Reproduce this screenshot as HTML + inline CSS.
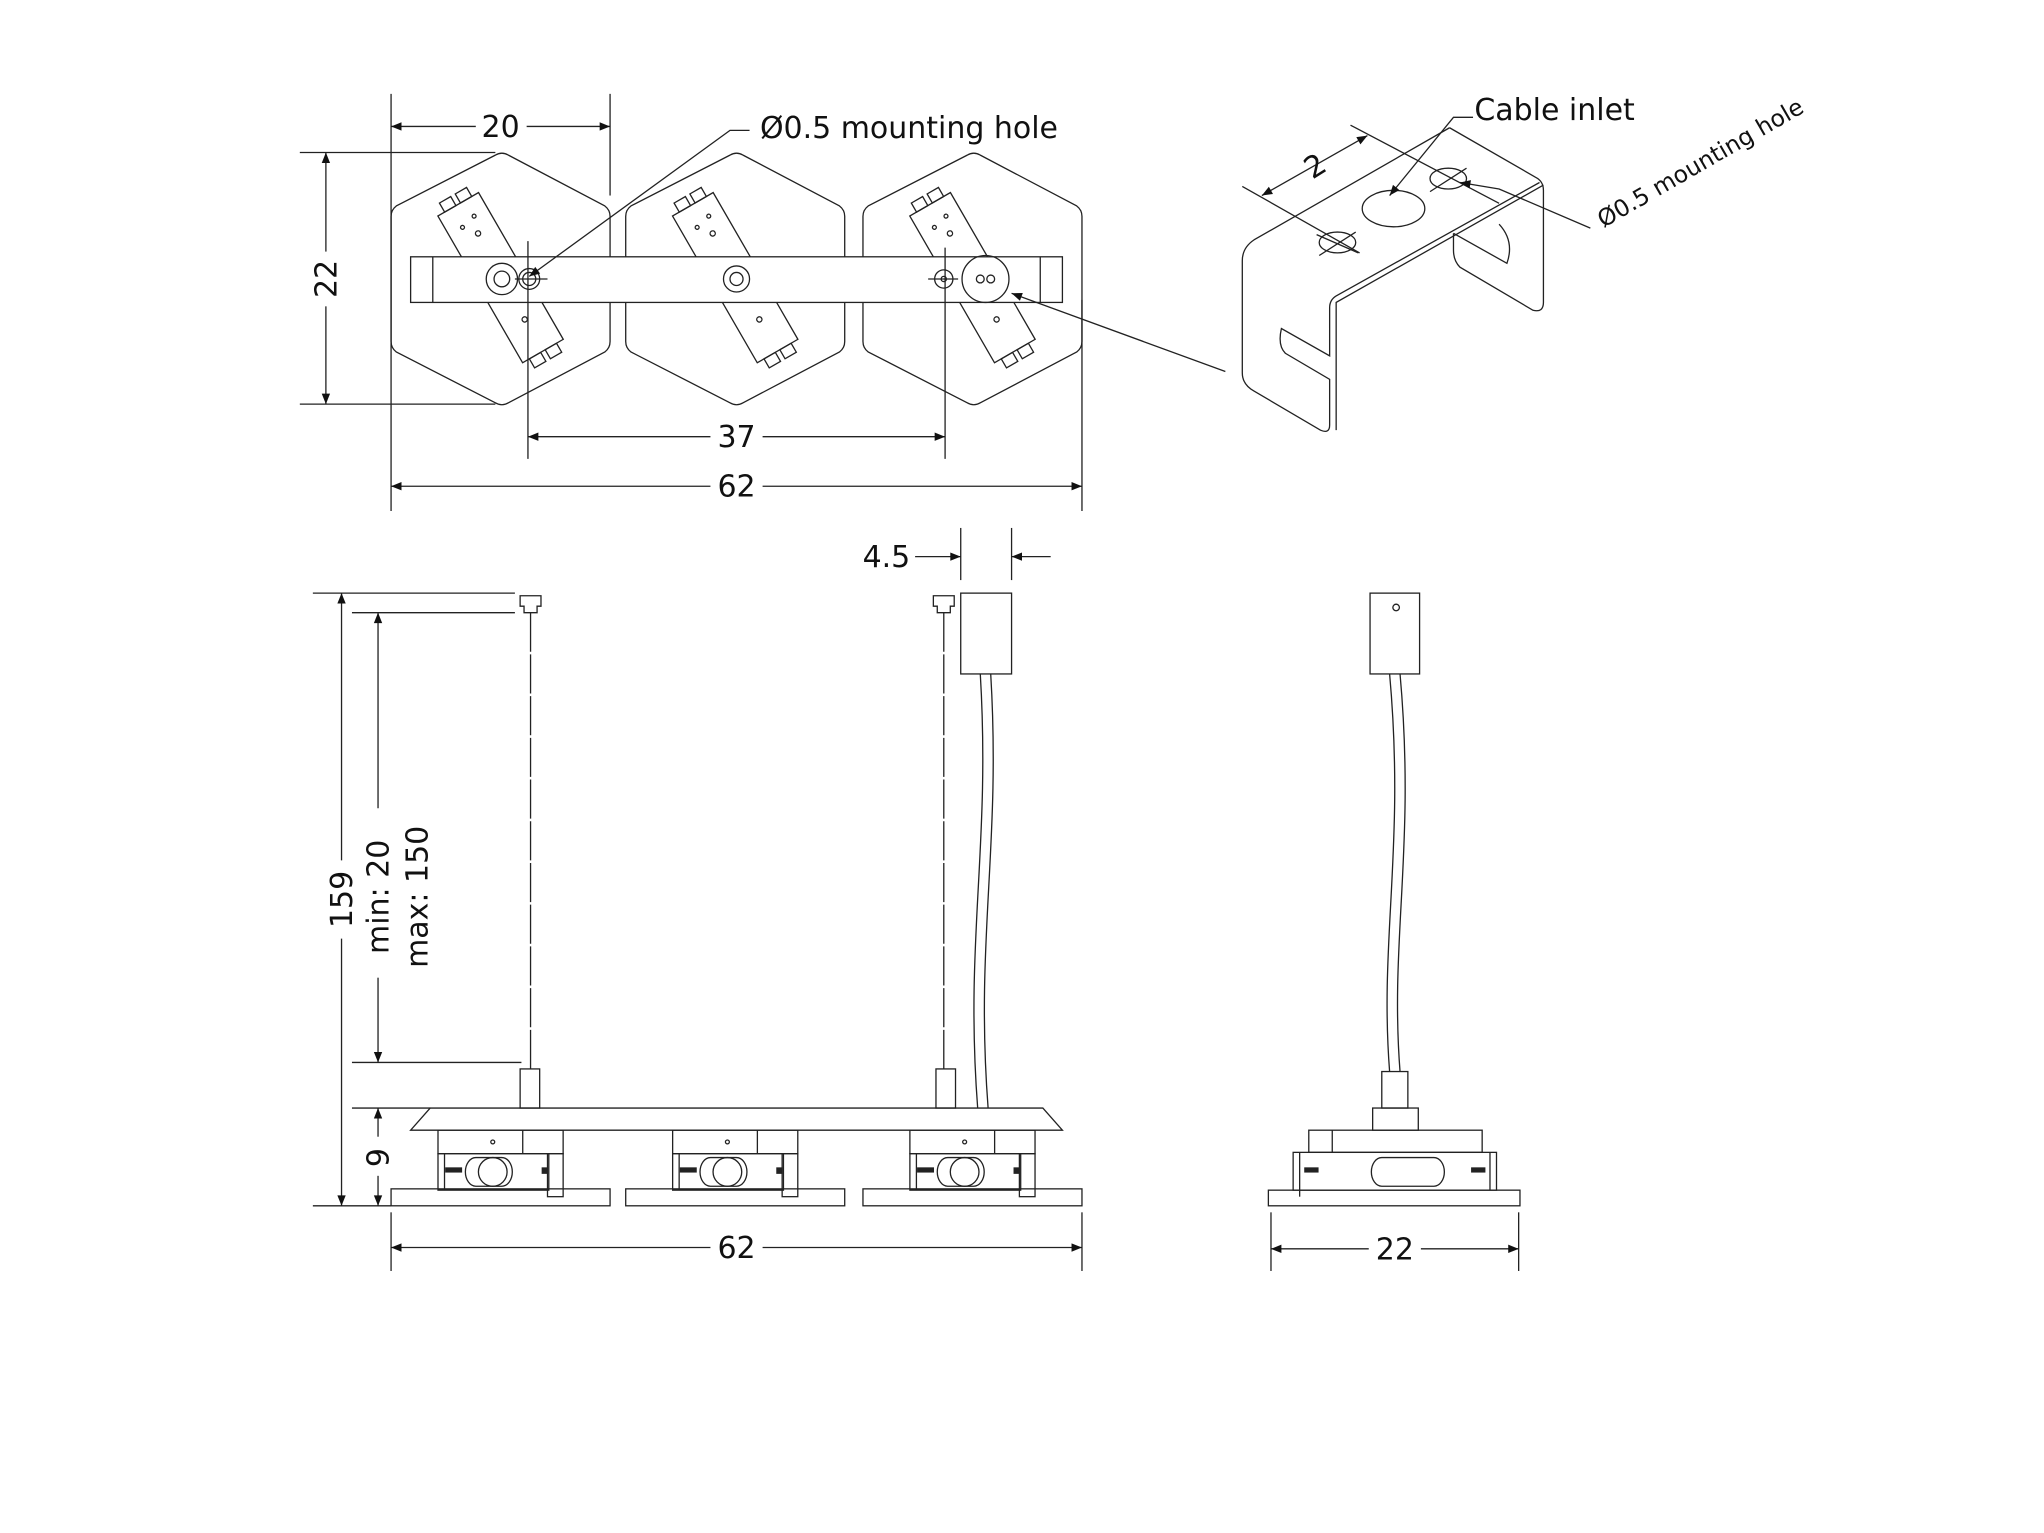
<!DOCTYPE html>
<html><head><meta charset="utf-8"><style>
html,body{margin:0;padding:0;background:#fff;width:2044px;height:1533px;overflow:hidden}
svg{display:block}
text{font-family:"DejaVu Sans","Liberation Sans",sans-serif;fill:#111}
</style></head><body>
<svg width="2044" height="1533" viewBox="0 0 1568 1176" xmlns="http://www.w3.org/2000/svg">
<defs>
<marker id="a" viewBox="0 0 10 10" refX="10" refY="5" markerWidth="12" markerHeight="8" orient="auto-start-reverse" markerUnits="userSpaceOnUse"><path d="M0,1 L10,5 L0,9z" fill="#111"/></marker>
</defs>
<g fill="none" stroke="#222" stroke-width="1">
<!-- hexagons -->
<g id="hx">
<path d="M380,119 Q385,116 390,119 L464,158 Q468,161 468,166 L468,262 Q468,267 464,270 L390,309 Q385,312 380,309 L304,270 Q300,267 300,262 L300,166 Q300,161 304,158 Z"/>
<g transform="rotate(-30 384 213)">
<rect x="366" y="148" width="36" height="130"/>
<rect x="372" y="140" width="10" height="8"/><rect x="386" y="140" width="10" height="8"/>
<rect x="372" y="278" width="10" height="8"/><rect x="386" y="278" width="10" height="8"/>
<circle cx="378" cy="165" r="1.5"/><circle cx="390" cy="162" r="1.5"/><circle cx="386" cy="175" r="2"/><circle cx="384" cy="250" r="2"/>
</g>
</g>
<use href="#hx" transform="translate(180,0)"/>
<use href="#hx" transform="translate(362,0)"/>
<rect x="315" y="197" width="500" height="35" fill="#fff"/>
<line x1="332" y1="197" x2="332" y2="232"/><line x1="798" y1="197" x2="798" y2="232"/>
<circle cx="385" cy="214" r="12"/><circle cx="385" cy="214" r="6"/>
<circle cx="406" cy="214" r="8"/><circle cx="406" cy="214" r="5"/>
<circle cx="565" cy="214" r="10"/><circle cx="565" cy="214" r="5"/>
<circle cx="724" cy="214" r="7"/><circle cx="724" cy="214" r="2"/>
<circle cx="756" cy="214" r="18"/><circle cx="752" cy="214" r="3"/><circle cx="760" cy="214" r="3"/>
<line x1="395" y1="214" x2="420" y2="214"/><line x1="712" y1="214" x2="735" y2="214"/>
<!-- dims top -->
<line x1="300" y1="72" x2="300" y2="392"/><line x1="468" y1="72" x2="468" y2="150"/>
<line x1="300" y1="97" x2="365" y2="97" marker-start="url(#a)"/><line x1="404" y1="97" x2="468" y2="97" marker-end="url(#a)"/>
<line x1="230" y1="117" x2="380" y2="117"/><line x1="230" y1="310" x2="380" y2="310"/>
<line x1="250" y1="117" x2="250" y2="193" marker-start="url(#a)"/><line x1="250" y1="235" x2="250" y2="310" marker-end="url(#a)"/>
<line x1="405" y1="185" x2="405" y2="352"/><line x1="725" y1="190" x2="725" y2="352"/>
<line x1="405" y1="335" x2="545" y2="335" marker-start="url(#a)"/><line x1="585" y1="335" x2="725" y2="335" marker-end="url(#a)"/>
<line x1="830" y1="230" x2="830" y2="392"/>
<line x1="300" y1="373" x2="545" y2="373" marker-start="url(#a)"/><line x1="585" y1="373" x2="830" y2="373" marker-end="url(#a)"/>
<polyline points="575,100 560,100 406,212" marker-end="url(#a)"/>
<polyline points="940,285 776,225" marker-end="url(#a)"/>
<!-- bracket -->
<path d="M1112,98 L1178,136 Q1184,139 1184,146 L1184,232 Q1184,240 1176,238 L1120,205 Q1115,200 1115,192 L1115,179"/>
<path d="M1115,179 L1156,202 Q1162,185 1150,172"/>
<path d="M1112,98 L962,184 Q953,190 953,200 L953,286 Q953,295 962,300 L1013,330 Q1020,333 1020,326 L1020,291 L986,271 Q980,265 983,252 L1020,273 L1020,236 Q1020,230 1025,227 L1181,140"/>
<path d="M1184,142 L1025,232 L1025,330"/>
<ellipse cx="1026" cy="186" rx="14" ry="8"/><line x1="1012" y1="196" x2="1040" y2="178"/><line x1="1010" y1="180" x2="1042" y2="194"/>
<ellipse cx="1069" cy="160" rx="24" ry="14"/>
<ellipse cx="1111" cy="137" rx="14" ry="8"/><line x1="1097" y1="147" x2="1125" y2="129"/>
<line x1="953" y1="143" x2="1043" y2="194"/><line x1="1036" y1="96" x2="1150" y2="156"/>
<line x1="968" y1="150" x2="1049" y2="104" marker-start="url(#a)" marker-end="url(#a)"/>
<polyline points="1130,90 1115,90 1066,150" marker-end="url(#a)"/>
<polyline points="1220,175 1150,145 1120,140" marker-end="url(#a)"/>
<!-- front view -->
<path d="M399,457 h16 v8 h-3 v5 h-10 v-5 h-3z"/><path d="M716,457 h16 v8 h-3 v5 h-10 v-5 h-3z"/>
<line x1="407" y1="470" x2="407" y2="820" stroke-dasharray="30 2"/><line x1="724" y1="470" x2="724" y2="820" stroke-dasharray="30 2"/>
<rect x="399" y="820" width="15" height="30"/><rect x="718" y="820" width="15" height="30"/>
<rect x="737" y="455" width="39" height="62"/>
<path d="M752,517 C760,650 740,720 750,850 M760,517 C768,650 748,720 758,850"/>
<path d="M330,850 L800,850 L815,867 L315,867 Z"/>
<g id="md"><rect x="336" y="867" width="96" height="18"/><line x1="401" y1="867" x2="401" y2="885"/><rect x="336" y="885" width="85" height="28"/><rect x="420" y="885" width="12" height="33"/><line x1="341" y1="885" x2="341" y2="913"/><path d="M365,888 h20 a8,11 0 0 1 0,22 h-20 a8,11 0 0 1 0,-22z"/><circle cx="378" cy="899" r="11"/><rect x="300" y="912" width="168" height="13"/><rect x="342" y="896" width="12" height="3" fill="#222"/><rect x="416" y="896" width="4" height="4" fill="#222"/><circle cx="378" cy="876" r="1.5"/></g>
<use href="#md" transform="translate(180,0)"/><use href="#md" transform="translate(362,0)"/>
<!-- dims front -->
<line x1="240" y1="455" x2="395" y2="455"/><line x1="270" y1="470" x2="395" y2="470"/><line x1="270" y1="815" x2="400" y2="815"/><line x1="270" y1="850" x2="330" y2="850"/><line x1="240" y1="925" x2="300" y2="925"/>
<line x1="262" y1="455" x2="262" y2="660" marker-start="url(#a)"/><line x1="262" y1="720" x2="262" y2="925" marker-end="url(#a)"/>
<line x1="290" y1="470" x2="290" y2="620" marker-start="url(#a)"/><line x1="290" y1="750" x2="290" y2="815" marker-end="url(#a)"/>
<line x1="290" y1="850" x2="290" y2="872" marker-start="url(#a)"/><line x1="290" y1="902" x2="290" y2="925" marker-end="url(#a)"/>
<line x1="737" y1="405" x2="737" y2="445"/><line x1="776" y1="405" x2="776" y2="445"/>
<line x1="702" y1="427" x2="737" y2="427" marker-end="url(#a)"/><line x1="806" y1="427" x2="776" y2="427" marker-end="url(#a)"/>
<line x1="300" y1="930" x2="300" y2="975"/><line x1="830" y1="930" x2="830" y2="975"/>
<line x1="300" y1="957" x2="545" y2="957" marker-start="url(#a)"/><line x1="585" y1="957" x2="830" y2="957" marker-end="url(#a)"/>
<!-- side view -->
<rect x="1051" y="455" width="38" height="62"/><circle cx="1071" cy="466" r="2.5"/>
<path d="M1066,517 C1078,650 1058,720 1066,822 M1074,517 C1086,650 1066,720 1074,822"/>
<rect x="1060" y="822" width="20" height="28"/>
<rect x="1053" y="850" width="35" height="17"/>
<rect x="1004" y="867" width="133" height="17"/><line x1="1022" y1="867" x2="1022" y2="884"/>
<rect x="992" y="884" width="156" height="29"/>
<line x1="997" y1="884" x2="997" y2="918"/><line x1="1143" y1="884" x2="1143" y2="913"/>
<path d="M1060,888 h40 a8,11 0 0 1 0,22 h-40 a8,11 0 0 1 0,-22z"/>
<rect x="973" y="913" width="193" height="12"/>
<rect x="1001" y="896" width="10" height="3" fill="#222"/><rect x="1129" y="896" width="10" height="3" fill="#222"/>
<line x1="975" y1="930" x2="975" y2="975"/><line x1="1165" y1="930" x2="1165" y2="975"/>
<line x1="975" y1="958" x2="1050" y2="958" marker-start="url(#a)"/><line x1="1090" y1="958" x2="1165" y2="958" marker-end="url(#a)"/>
</g>
<g font-size="23">
<text x="384" y="105" text-anchor="middle">20</text>
<text transform="translate(258,214) rotate(-90)" text-anchor="middle">22</text>
<text x="565" y="343" text-anchor="middle">37</text>
<text x="565" y="381" text-anchor="middle">62</text>
<text x="583" y="106">Ø0.5 mounting hole</text>
<text x="1131" y="92">Cable inlet</text>
<text transform="translate(1013,134) rotate(-32)" text-anchor="middle">2</text>
<text x="680" y="435" text-anchor="middle">4.5</text>
<text transform="translate(270,690) rotate(-90)" text-anchor="middle">159</text>
<text transform="translate(298,688) rotate(-90)" text-anchor="middle">min: 20</text>
<text transform="translate(328,688) rotate(-90)" text-anchor="middle">max: 150</text>
<text transform="translate(298,888) rotate(-90)" text-anchor="middle">9</text>
<text x="565" y="965" text-anchor="middle">62</text>
<text x="1070" y="966" text-anchor="middle">22</text>
</g>
<text transform="translate(1230,175) rotate(-30)" font-size="18">Ø0.5 mounting hole</text>
</svg>
</body></html>
